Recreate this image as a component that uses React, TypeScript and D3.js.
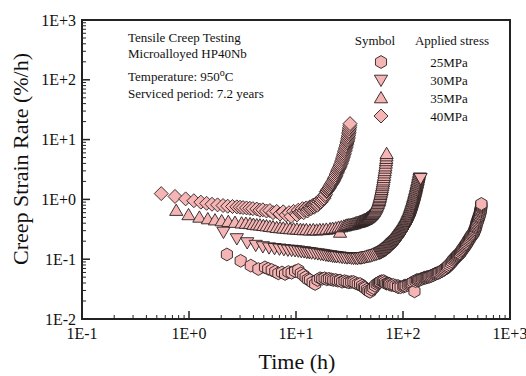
import React from "react";
import * as d3 from "d3";

// ---------- data (time h, creep strain rate %/h) ----------
const series25: [number, number][] = [
  [2.26, 0.12], [3.04, 0.094], [3.78, 0.078], [4.45, 0.0685], [5.13, 0.073], [5.5, 0.069], [5.93, 0.066],
  [6.4, 0.062], [6.84, 0.058], [7.4, 0.06], [7.9, 0.0566], [8.5, 0.061], [9.1, 0.0594], [9.8, 0.063],
  [10.5, 0.066], [11.1, 0.058], [11.7, 0.0544], [12.3, 0.05], [12.9, 0.046], [13.5, 0.0449], [14.3, 0.041],
  [15.1, 0.0385], [15.9, 0.045], [16.8, 0.048], [17.6, 0.047], [18.5, 0.048], [19.4, 0.0461], [20.3, 0.047],
  [21.3, 0.046], [22.3, 0.0449], [23.5, 0.045], [24.6, 0.0437], [25.8, 0.044], [27, 0.042], [28.4, 0.043],
  [29.8, 0.042], [31.2, 0.041], [32.8, 0.0416], [34.4, 0.0416], [36, 0.04], [37.8, 0.0385], [39.7, 0.0385],
  [41.5, 0.036], [43, 0.034], [44.2, 0.033], [46, 0.031], [47.5, 0.0295], [49.2, 0.0285], [51, 0.031],
  [52.8, 0.033], [54.8, 0.036], [56.8, 0.0385], [58.8, 0.04], [60, 0.041], [61, 0.0416], [63, 0.043],
  [65.5, 0.042], [66, 0.043], [68, 0.041], [70, 0.039], [72.4, 0.0393], [74, 0.039], [75, 0.038], [78, 0.037],
  [81.3, 0.037], [85, 0.036], [89.8, 0.0357], [90, 0.034], [95, 0.034], [100.7, 0.0347], [103, 0.036],
  [106, 0.036], [111, 0.037], [115, 0.038], [118, 0.039], [121, 0.04], [125, 0.0416], [128, 0.029],
  [131, 0.043], [135, 0.045], [138, 0.044], [142, 0.045], [146, 0.046], [150, 0.047], [155, 0.048],
  [159, 0.049], [163, 0.049], [167, 0.05], [171, 0.0504], [176, 0.051], [181, 0.052], [186, 0.053],
  [192, 0.0544], [197, 0.056], [202, 0.057], [207, 0.058], [212, 0.0588], [218, 0.06], [225, 0.062],
  [231, 0.064], [238, 0.066], [245, 0.068], [251, 0.071], [258, 0.074], [264, 0.0769], [272, 0.081],
  [280, 0.086], [288, 0.091], [295, 0.097], [302, 0.101], [308, 0.105], [314, 0.109], [320, 0.113],
  [325, 0.116], [330, 0.12], [336, 0.123], [341, 0.126], [348, 0.133], [355, 0.14], [361, 0.147],
  [368, 0.154], [375, 0.161], [381, 0.168], [388, 0.176], [394, 0.184], [401, 0.194], [408, 0.205],
  [415, 0.215], [423, 0.226], [430, 0.238], [438, 0.25], [446, 0.26], [454, 0.271], [460, 0.285],
  [465, 0.3], [471, 0.315], [476, 0.333], [479, 0.345], [482, 0.36], [485, 0.38], [488, 0.398],
  [493, 0.42], [498, 0.44], [503, 0.465], [508, 0.489], [512, 0.51], [516, 0.53], [520, 0.56],
  [525, 0.586], [528, 0.62], [530, 0.65], [533, 0.68], [536, 0.718], [537, 0.75], [538, 0.78],
  [539, 0.81], [540, 0.84],
];

const series30: [number, number][] = [
  [2.1, 0.285], [2.8, 0.222], [3.5, 0.19], [4.2, 0.172], [4.9, 0.163], [5.6, 0.156], [6.3, 0.152],
  [7.0, 0.149], [7.7, 0.146], [8.4, 0.143], [9.1, 0.142], [9.8, 0.14], [10.5, 0.138], [11.2, 0.135],
  [11.9, 0.134], [12.6, 0.131], [13.3, 0.13], [14, 0.128], [15, 0.126], [16, 0.124], [17, 0.122],
  [18, 0.12], [19, 0.118], [20, 0.116], [21, 0.115], [22, 0.113], [23, 0.112], [24, 0.111], [25.5, 0.11],
  [27, 0.108], [28.5, 0.107], [30, 0.106], [31.5, 0.107], [33, 0.105], [34.5, 0.104], [36, 0.105],
  [37.5, 0.103], [39, 0.106], [40.5, 0.105], [42, 0.107], [43.5, 0.108], [45, 0.11], [46.5, 0.111],
  [48, 0.112], [50, 0.114], [52, 0.117], [54, 0.119], [56, 0.121], [58, 0.124], [60, 0.127], [61, 0.128],
  [62, 0.13], [63, 0.132], [64, 0.134], [65, 0.136], [66, 0.138], [67, 0.14], [68, 0.142], [69, 0.145],
  [70, 0.148], [71, 0.151], [72, 0.154], [73, 0.157], [74, 0.16], [75, 0.163], [76, 0.167], [77, 0.171],
  [78, 0.175], [79, 0.179], [80, 0.183], [81, 0.186], [82, 0.19], [83, 0.194], [84, 0.198], [85, 0.202],
  [86, 0.207], [87, 0.211], [88, 0.216], [89, 0.222], [90, 0.228], [91, 0.234], [92, 0.24], [93, 0.246],
  [94, 0.253], [95, 0.26], [96, 0.266], [97, 0.273], [98, 0.28], [99, 0.288], [100, 0.295], [101, 0.302],
  [102, 0.31], [103, 0.32], [104, 0.33], [105, 0.34], [106, 0.35], [107, 0.36], [108, 0.37], [109, 0.385],
  [110, 0.4], [111, 0.415], [112, 0.43], [113, 0.445], [114, 0.46], [115, 0.48], [116, 0.5], [117, 0.525],
  [118, 0.55], [119, 0.575], [120, 0.6], [121, 0.63], [122, 0.66], [123, 0.7], [124, 0.73], [125, 0.77],
  [126, 0.81], [127, 0.85], [128, 0.9], [129, 0.95], [130, 1.0], [131, 1.06], [132, 1.12], [133, 1.19],
  [134, 1.26], [135, 1.34], [136, 1.42], [137, 1.5], [138, 1.6], [139, 1.7], [140, 1.8], [141, 1.92],
  [142, 2.05], [143, 2.18], [144, 2.3], [146, 2.25],
];

const series35: [number, number][] = [
  [0.76, 0.65], [0.99, 0.55], [1.25, 0.5], [1.5, 0.47], [1.75, 0.45], [2.02, 0.435], [2.33, 0.424],
  [2.69, 0.41], [3.1, 0.4], [3.4, 0.395], [3.72, 0.39], [4.0, 0.38], [4.3, 0.373], [4.6, 0.37],
  [4.95, 0.363], [5.3, 0.358], [5.7, 0.35], [6.1, 0.345], [6.6, 0.336], [7.1, 0.333], [7.6, 0.329],
  [8.2, 0.325], [8.8, 0.32], [9.5, 0.318], [10.2, 0.316], [11.0, 0.312], [11.7, 0.308], [12.5, 0.31],
  [13.5, 0.305], [14.5, 0.31], [15.6, 0.305], [16.7, 0.31], [17.9, 0.31], [19.2, 0.315], [20.8, 0.32],
  [22, 0.325], [23.5, 0.33], [25, 0.34], [25.8, 0.28], [26.5, 0.345], [28, 0.355], [29, 0.36], [30, 0.37],
  [31, 0.372], [32, 0.375], [33, 0.38], [34, 0.385], [35, 0.39], [36, 0.4], [37, 0.405], [38, 0.41],
  [39, 0.415], [39.6, 0.42], [40.3, 0.425], [41, 0.43], [41.7, 0.435], [42.5, 0.44], [43.2, 0.45],
  [44, 0.455], [44.7, 0.46], [45.5, 0.47], [46.2, 0.48], [47, 0.49], [47.7, 0.5], [48.5, 0.51],
  [49.2, 0.525], [50, 0.54], [50.7, 0.555], [51.5, 0.57], [52.2, 0.59], [53, 0.61], [53.7, 0.63],
  [54.5, 0.66], [55.2, 0.69], [56, 0.72], [56.7, 0.76], [57.5, 0.8], [58.2, 0.85], [59, 0.9], [59.5, 0.95],
  [60, 1.0], [60.5, 1.06], [61, 1.12], [61.5, 1.2], [62, 1.27], [62.5, 1.36], [63, 1.45], [63.5, 1.56],
  [64, 1.68], [64.5, 1.8], [65, 1.95], [65.5, 2.1], [66, 2.3], [66.5, 2.5], [67, 2.75], [67.5, 3.0],
  [68, 3.3], [68.5, 3.6], [69, 4.0], [69.4, 4.4], [69.8, 4.8], [70.1, 5.3], [70.3, 5.8],
];

const series40: [number, number][] = [
  [0.55, 1.25], [0.74, 1.12], [0.93, 1.02], [1.11, 0.95], [1.29, 0.9], [1.46, 0.86], [1.64, 0.83],
  [1.85, 0.81], [2.08, 0.79], [2.3, 0.77], [2.55, 0.76], [2.8, 0.75], [3.0, 0.74], [3.2, 0.73],
  [3.45, 0.72], [3.7, 0.71], [3.95, 0.7], [4.3, 0.69], [4.6, 0.66], [4.9, 0.67], [5.3, 0.64], [5.7, 0.65],
  [6.1, 0.6], [6.6, 0.63], [7.1, 0.57], [7.6, 0.62], [8.1, 0.55], [8.6, 0.6], [9.0, 0.52], [9.5, 0.63],
  [10.0, 0.58], [10.2, 0.55], [10.5, 0.66], [10.8, 0.6], [11.0, 0.62], [11.3, 0.64], [11.5, 0.7],
  [11.8, 0.6], [12.0, 0.66], [12.3, 0.7], [12.5, 0.72], [12.8, 0.64], [13.0, 0.69], [13.3, 0.72],
  [13.5, 0.75], [13.8, 0.7], [14.0, 0.74], [14.3, 0.78], [14.5, 0.8], [14.8, 0.74], [15.0, 0.78],
  [15.3, 0.82], [15.6, 0.87], [15.9, 0.8], [16.2, 0.85], [16.5, 0.92], [16.8, 0.98], [17.1, 0.9],
  [17.4, 0.95], [17.7, 1.02], [18.0, 1.12], [18.3, 1.05], [18.6, 1.15], [18.9, 1.22], [19.2, 1.35],
  [19.5, 1.38], [19.8, 1.45], [20.1, 1.5], [20.4, 1.55], [20.7, 1.62], [21.0, 1.7], [21.3, 1.78],
  [21.6, 1.85], [21.9, 1.92], [22.2, 2.0], [22.5, 2.1], [22.8, 2.2], [23.1, 2.3], [23.4, 2.4],
  [23.7, 2.55], [24.0, 2.7], [24.3, 2.85], [24.6, 3.0], [24.9, 3.15], [25.2, 3.3], [25.5, 3.45],
  [25.8, 3.6], [26.1, 3.8], [26.4, 4.0], [26.7, 4.25], [27.0, 4.5], [27.25, 4.75], [27.5, 5.0],
  [27.75, 5.3], [28.0, 5.6], [28.25, 5.9], [28.5, 6.3], [28.75, 6.6], [29.0, 7.0], [29.25, 7.4],
  [29.5, 7.8], [29.75, 8.3], [30.0, 8.8], [30.2, 9.3], [30.4, 9.8], [30.6, 10.4], [30.8, 11],
  [30.95, 11.7], [31.1, 12.5], [31.25, 13.2], [31.4, 14], [31.55, 15], [31.7, 16], [31.85, 17.2],
  [32.0, 18.5],
];

const stressLabels = ["25MPa", "30MPa", "35MPa", "40MPa"];
const xTickLabels = ["1E-1", "1E+0", "1E+1", "1E+2", "1E+3"];
const yTickLabels = ["1E-2", "1E-1", "1E+0", "1E+1", "1E+2", "1E+3"];
const infoLines = ["Tensile Creep Testing", "Microalloyed HP40Nb"];

// ---------- layout ----------
const W = 526;
const H = 376;
const L = 82, R = 510, T = 20, B = 319;
const FONT = "'Liberation Serif', 'Times New Roman', serif";
const FILL = "#f6b5b5";
const STROKE = "#2a2020";

const x = d3.scaleLog().domain([0.1, 1000]).range([L, R]);
const y = d3.scaleLog().domain([0.01, 1000]).range([B, T]);

type Shape = "hex" | "down" | "up" | "diamond";

function shapePath(shape: Shape, cx: number, cy: number): string {
  const p = d3.path();
  if (shape === "hex") {
    const r = 6.4;
    for (let i = 0; i < 6; i++) {
      const a = (Math.PI / 3) * i + Math.PI / 6;
      const px = cx + r * Math.cos(a);
      const py = cy + r * Math.sin(a);
      if (i === 0) p.moveTo(px, py);
      else p.lineTo(px, py);
    }
    p.closePath();
  } else if (shape === "up") {
    p.moveTo(cx, cy - 6.5);
    p.lineTo(cx + 6.6, cy + 4.8);
    p.lineTo(cx - 6.6, cy + 4.8);
    p.closePath();
  } else if (shape === "down") {
    p.moveTo(cx, cy + 6.5);
    p.lineTo(cx + 6.6, cy - 4.8);
    p.lineTo(cx - 6.6, cy - 4.8);
    p.closePath();
  } else {
    const r = 7;
    p.moveTo(cx, cy - r);
    p.lineTo(cx + r, cy);
    p.lineTo(cx, cy + r);
    p.lineTo(cx - r, cy);
    p.closePath();
  }
  return p.toString();
}

const allSeries: { data: [number, number][]; shape: Shape }[] = [
  { data: series25, shape: "hex" },
  { data: series30, shape: "down" },
  { data: series35, shape: "up" },
  { data: series40, shape: "diamond" },
];

export default function App() {
  const xMajors = [0.1, 1, 10, 100, 1000];
  const yMajors = [0.01, 0.1, 1, 10, 100, 1000];
  const xMinors: number[] = [];
  for (let d = 0.1; d < 1000; d *= 10) for (let k = 2; k <= 9; k++) xMinors.push(d * k);
  const yMinors: number[] = [];
  for (let d = 0.01; d < 1000; d *= 10) for (let k = 2; k <= 9; k++) yMinors.push(d * k);

  return (
    <svg width={W} height={H} style={{ position: "absolute", left: 0, top: 0, background: "#fff" }}>
      <rect x={0} y={0} width={W} height={H} fill="#fff" />
      {/* ticks */}
      <g stroke="#222" strokeWidth={1}>
        {xMinors.map((v, i) => (
          <line key={"xm" + i} x1={x(v)} x2={x(v)} y1={B} y2={B - 4} />
        ))}
        {xMajors.map((v, i) => (
          <line key={"xM" + i} x1={x(v)} x2={x(v)} y1={B} y2={B - 8} strokeWidth={1.5} />
        ))}
        {yMinors.map((v, i) => (
          <line key={"ym" + i} x1={L} x2={L + 4} y1={y(v)} y2={y(v)} />
        ))}
        {yMajors.map((v, i) => (
          <line key={"yM" + i} x1={L} x2={L + 8} y1={y(v)} y2={y(v)} strokeWidth={1.5} />
        ))}
      </g>

      {/* data */}
      {allSeries.map((s, si) => (
        <g key={"s" + si} fill={FILL} stroke={STROKE} strokeWidth={0.9}>
          {d3.sort(s.data, (d) => d[0]).map((d, i) => (
            <path key={i} d={shapePath(s.shape, x(d[0]), y(d[1]))} />
          ))}
        </g>
      ))}

      {/* frame */}
      <rect x={L} y={T} width={R - L} height={B - T} fill="none" stroke="#222" strokeWidth={2} />

      {/* tick labels */}
      <g fontFamily={FONT} fontSize={16} fill="#111">
        {xMajors.map((v, i) => (
          <text key={"xl" + i} x={x(v)} y={339} textAnchor="middle">
            {xTickLabels[i]}
          </text>
        ))}
        {yMajors.map((v, i) => (
          <text key={"yl" + i} x={76} y={y(v) + 5.5} textAnchor="end">
            {yTickLabels[i]}
          </text>
        ))}
      </g>

      {/* axis titles */}
      <text x={297} y={369} textAnchor="middle" fontFamily={FONT} fontSize={22} fill="#111">
        Time (h)
      </text>
      <text
        transform={`translate(28,159) rotate(-90)`}
        textAnchor="middle"
        fontFamily={FONT}
        fontSize={22}
        fill="#111"
      >
        Creep Strain Rate (%/h)
      </text>

      {/* info text */}
      <g fontFamily={FONT} fontSize={13} fill="#111">
        <text x={128} y={42}>{infoLines[0]}</text>
        <text x={128} y={58}>{infoLines[1]}</text>
        <text x={128} y={81}>
          Temperature: 950
          <tspan dy={-5} fontSize={10}>o</tspan>
          <tspan dy={5}>C</tspan>
        </text>
        <text x={128} y={98}>Serviced period: 7.2 years</text>
      </g>

      {/* legend */}
      <g fontFamily={FONT} fontSize={13} fill="#111">
        <text x={375} y={45} textAnchor="middle">Symbol</text>
        <text x={452} y={45} textAnchor="middle">Applied stress</text>
        {allSeries.map((s, i) => {
          const ly = 62 + i * 18;
          return (
            <g key={"lg" + i}>
              <path d={shapePath(s.shape, 381, ly)} fill={FILL} stroke={STROKE} strokeWidth={0.9} />
              <text x={449} y={ly + 4.5} textAnchor="middle">{stressLabels[i]}</text>
            </g>
          );
        })}
      </g>
    </svg>
  );
}
